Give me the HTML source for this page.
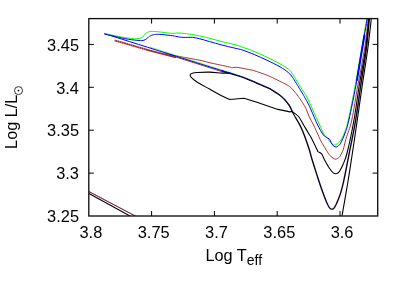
<!DOCTYPE html>
<html>
<head>
<meta charset="utf-8">
<style>
html,body{margin:0;padding:0;background:#fff;}
body{width:407px;height:284px;overflow:hidden;}
svg{display:block;will-change:transform;opacity:0.999;}
text{font-family:"Liberation Sans",sans-serif;fill:#000;}
</style>
</head>
<body>
<svg width="407" height="284" viewBox="0 0 407 284">
<rect x="0" y="0" width="407" height="284" fill="#fff"/>
<defs><clipPath id="c"><rect x="88.8" y="18.6" width="288.9" height="197.4"/></clipPath></defs>
<g clip-path="url(#c)" fill="none" stroke-width="1.0" stroke-linejoin="round" stroke-linecap="round">
<path d="M88.50,193.35 L131.00,216.55" stroke="#000" stroke-width="1.1"/>
<path d="M88.50,191.45 L136.00,216.50" stroke="#a52a2a"/>
<path d="M88.50,191.15 L136.00,216.20" stroke="#303080" stroke-width="0.6"/>
<path d="M170.00,55.17 L228.00,73.54" stroke="#a52a2a" stroke-width="0.9"/>
<path d="M114.60,40.35 L150.00,50.70 L176.00,57.30" stroke="#a52a2a" stroke-width="1.9" stroke-linecap="butt"/>
<path d="M114.60,40.35 L146.00,49.53" stroke="#fff" stroke-width="1.9" stroke-linecap="butt" stroke-dasharray="0.9 1.4" opacity="0.35"/>
<path d="M165.00,52.83 C166.17,53.20 169.50,54.37 172.00,55.00 C174.50,55.63 175.33,55.72 180.00,56.60 C184.67,57.48 195.00,59.27 200.00,60.30 C205.00,61.33 205.15,61.70 210.00,62.80 C214.85,63.90 225.52,66.08 229.10,66.90 C232.68,67.72 230.12,67.62 231.50,67.70 C232.88,67.78 234.57,67.10 237.40,67.40 C240.23,67.70 245.77,68.97 248.50,69.50 C251.23,70.03 250.63,69.62 253.80,70.60 C256.97,71.58 263.58,73.83 267.50,75.40 C271.42,76.97 274.02,78.40 277.30,80.00 C280.58,81.60 284.93,83.73 287.20,85.00 C289.47,86.27 289.60,86.40 290.90,87.60 C292.20,88.80 293.95,90.97 295.00,92.20 C296.05,93.43 295.97,93.30 297.20,95.00 C298.43,96.70 300.93,100.12 302.40,102.40 C303.87,104.68 304.92,106.43 306.00,108.70 C307.08,110.97 307.65,113.28 308.90,116.00 C310.15,118.72 311.95,121.83 313.50,125.00 C315.05,128.17 316.97,132.33 318.20,135.00 C319.43,137.67 319.22,137.95 320.90,141.00 C322.58,144.05 326.55,150.67 328.30,153.30 C330.05,155.93 330.38,155.87 331.40,156.80 C332.42,157.73 333.65,158.50 334.40,158.90 C335.15,159.30 335.38,159.27 335.90,159.20 C336.42,159.13 336.92,158.83 337.50,158.50 C338.08,158.17 338.87,157.78 339.40,157.20 C339.93,156.62 340.08,156.20 340.70,155.00 C341.32,153.80 342.20,152.75 343.10,150.00 C344.00,147.25 344.65,143.50 346.10,138.50 C347.55,133.50 349.83,128.92 351.80,120.00 C353.77,111.08 355.80,96.67 357.90,85.00 C360.00,73.33 362.67,61.17 364.40,50.00 C366.13,38.83 367.65,23.33 368.30,18.00" stroke="#a52a2a" stroke-width="0.95"/>
<path d="M150.00,47.18 L236.00,74.43" stroke="#00ff00" stroke-width="0.6"/>
<path d="M228.50,72.39 C230.45,73.01 237.35,75.16 240.20,76.10 C243.05,77.04 243.47,77.18 245.60,78.00 C247.73,78.82 250.53,79.95 253.00,81.00 C255.47,82.05 258.37,83.42 260.40,84.30 C262.43,85.18 263.90,85.75 265.20,86.30 C266.50,86.85 266.97,86.98 268.20,87.60 C269.43,88.22 270.63,88.78 272.60,90.00 C274.57,91.22 278.03,93.43 280.00,94.90 C281.97,96.37 283.17,97.57 284.40,98.80 C285.63,100.03 286.58,101.28 287.40,102.30 C288.22,103.32 288.70,103.93 289.30,104.90 C289.90,105.87 290.50,107.08 291.00,108.10 C291.50,109.12 292.08,110.52 292.30,111.00" stroke="#0000ff" stroke-width="0.9"/>
<path d="M295.15,117.60 C295.83,118.78 297.80,121.78 299.25,124.70 C300.70,127.62 302.22,130.87 303.85,135.10 C305.48,139.33 307.72,145.93 309.05,150.10 C310.38,154.27 310.22,154.77 311.85,160.10 C313.48,165.43 316.97,176.38 318.85,182.10 C320.73,187.82 321.82,190.80 323.15,194.40 C324.48,198.00 325.85,201.45 326.85,203.70 C327.85,205.95 328.57,207.02 329.15,207.90 C329.73,208.78 329.95,208.75 330.35,209.00 C330.75,209.25 331.29,209.29 331.55,209.40 C331.81,209.51 331.58,209.72 331.90,209.65 C332.22,209.58 332.99,209.29 333.45,209.00 C333.91,208.71 334.08,208.78 334.65,207.90 C335.22,207.02 335.87,205.95 336.85,203.70 C337.83,201.45 339.38,198.00 340.55,194.40 C341.72,190.80 342.40,188.65 343.85,182.10 C345.30,175.55 347.22,165.43 349.25,155.10 C351.28,144.77 354.07,131.77 356.05,120.10 C358.03,108.43 359.40,96.77 361.15,85.10 C362.90,73.43 365.12,61.27 366.55,50.10 C367.98,38.93 369.22,23.43 369.75,18.10" stroke="#a52a2a" stroke-width="0.5"/>
<path d="M295.85,117.40 C296.53,118.58 298.50,121.58 299.95,124.50 C301.40,127.42 302.92,130.67 304.55,134.90 C306.18,139.13 308.42,145.73 309.75,149.90 C311.08,154.07 310.92,154.57 312.55,159.90 C314.18,165.23 317.67,176.18 319.55,181.90 C321.43,187.62 322.52,190.60 323.85,194.20 C325.18,197.80 326.55,201.25 327.55,203.50 C328.55,205.75 329.27,206.82 329.85,207.70 C330.43,208.58 330.65,208.55 331.05,208.80 C331.45,209.05 332.11,209.18 332.25,209.20 C332.39,209.22 331.82,208.97 331.90,208.90 C331.98,208.83 332.41,209.00 332.75,208.80 C333.09,208.60 333.38,208.58 333.95,207.70 C334.52,206.82 335.17,205.75 336.15,203.50 C337.13,201.25 338.68,197.80 339.85,194.20 C341.02,190.60 341.70,188.45 343.15,181.90 C344.60,175.35 346.52,165.23 348.55,154.90 C350.58,144.57 353.37,131.57 355.35,119.90 C357.33,108.23 358.70,96.57 360.45,84.90 C362.20,73.23 364.42,61.07 365.85,49.90 C367.28,38.73 368.52,23.23 369.05,17.90" stroke="#0000ff" stroke-width="0.45"/>
<path d="M222.00,70.89 C223.05,71.22 225.30,71.94 228.30,72.89 C231.30,73.84 237.15,75.66 240.00,76.60 C242.85,77.54 243.27,77.68 245.40,78.50 C247.53,79.32 250.33,80.45 252.80,81.50 C255.27,82.55 258.17,83.92 260.20,84.80 C262.23,85.68 263.70,86.25 265.00,86.80 C266.30,87.35 266.77,87.48 268.00,88.10 C269.23,88.72 270.43,89.28 272.40,90.50 C274.37,91.72 277.83,93.93 279.80,95.40 C281.77,96.87 282.97,98.07 284.20,99.30 C285.43,100.53 286.38,101.78 287.20,102.80 C288.02,103.82 288.50,104.43 289.10,105.40 C289.70,106.37 290.30,107.58 290.80,108.60 C291.30,109.62 291.32,110.02 292.10,111.50 C292.88,112.98 294.25,115.32 295.50,117.50 C296.75,119.68 298.15,121.68 299.60,124.60 C301.05,127.52 302.57,130.77 304.20,135.00 C305.83,139.23 308.07,145.83 309.40,150.00 C310.73,154.17 310.57,154.67 312.20,160.00 C313.83,165.33 317.32,176.28 319.20,182.00 C321.08,187.72 322.17,190.70 323.50,194.30 C324.83,197.90 326.20,201.35 327.20,203.60 C328.20,205.85 328.92,206.92 329.50,207.80 C330.08,208.68 330.30,208.65 330.70,208.90 C331.10,209.15 331.50,209.30 331.90,209.30 C332.30,209.30 332.70,209.15 333.10,208.90 C333.50,208.65 333.73,208.68 334.30,207.80 C334.87,206.92 335.52,205.85 336.50,203.60 C337.48,201.35 339.03,197.90 340.20,194.30 C341.37,190.70 342.05,188.55 343.50,182.00 C344.95,175.45 346.87,165.33 348.90,155.00 C350.93,144.67 353.72,131.67 355.70,120.00 C357.68,108.33 359.05,96.67 360.80,85.00 C362.55,73.33 364.77,61.17 366.20,50.00 C367.63,38.83 368.87,23.33 369.40,18.00" stroke="#000" stroke-width="1.1"/>
<path d="M228.50,73.30 C227.40,73.27 225.05,73.30 221.90,73.10 C218.75,72.90 213.70,72.20 209.60,72.10 C205.50,72.00 200.17,72.30 197.30,72.50 C194.43,72.70 193.58,72.90 192.40,73.30 C191.22,73.70 190.40,74.22 190.20,74.90 C190.00,75.58 190.02,76.17 191.20,77.40 C192.38,78.63 194.23,80.35 197.30,82.30 C200.37,84.25 205.28,86.73 209.60,89.10 C213.92,91.47 219.87,94.77 223.20,96.50 C226.53,98.23 228.53,99.00 229.60,99.50L229.60,99.50 L244.00,98.20 L256.90,102.20 L270.00,106.80 L278.00,109.40 L285.40,110.90 L289.80,111.90 L292.10,111.50L292.10,111.50 C293.17,112.33 296.58,114.25 298.50,116.50 C300.42,118.75 301.75,121.92 303.60,125.00 C305.45,128.08 308.37,132.95 309.60,135.00 C310.83,137.05 309.73,134.80 311.00,137.30 C312.27,139.80 316.05,147.62 317.20,150.00 C318.35,152.38 317.17,150.95 317.90,151.60 C318.63,152.25 320.48,152.52 321.60,153.90 C322.72,155.28 323.27,157.47 324.60,159.90 C325.93,162.33 328.15,166.35 329.60,168.50 C331.05,170.65 332.28,171.93 333.30,172.80 C334.32,173.67 334.92,173.68 335.70,173.70 C336.48,173.72 337.35,173.32 338.00,172.90 C338.65,172.48 338.78,172.55 339.60,171.20 C340.42,169.85 341.63,167.92 342.90,164.80 C344.17,161.68 345.35,159.97 347.20,152.50 C349.05,145.03 351.98,131.25 354.00,120.00 C356.02,108.75 357.40,96.67 359.30,85.00 C361.20,73.33 363.80,61.17 365.40,50.00 C367.00,38.83 368.32,23.33 368.90,18.00" stroke="#000" stroke-width="1.1"/>
<path d="M341.90,216.50 C342.90,210.75 346.20,192.25 347.90,182.00 C349.60,171.75 350.53,165.33 352.10,155.00 C353.67,144.67 355.60,131.67 357.30,120.00 C359.00,108.33 360.58,96.67 362.30,85.00 C364.02,73.33 366.08,61.17 367.60,50.00 C369.12,38.83 370.77,23.33 371.40,18.00" stroke="#000" stroke-width="1.1"/>
<path d="M104.60,33.70 C125.33,40.24 208.27,66.42 229.00,72.96" stroke="#0000ff" stroke-width="1.0"/>
<path d="M104.70,33.50 C107.00,34.00 114.15,35.68 118.50,36.50 C122.85,37.32 127.73,38.03 130.80,38.40 C133.87,38.77 135.15,38.80 136.90,38.70 C138.65,38.60 140.17,38.28 141.30,37.80 C142.43,37.32 142.88,36.60 143.70,35.80 C144.52,35.00 145.40,33.63 146.20,33.00 C147.00,32.37 147.68,32.27 148.50,32.00 C149.32,31.73 149.43,31.43 151.10,31.40 C152.77,31.37 155.22,31.48 158.50,31.80 C161.78,32.12 167.72,33.10 170.80,33.30 C173.88,33.50 174.95,33.00 177.00,33.00 C179.05,33.00 180.93,33.10 183.10,33.30 C185.27,33.50 187.63,33.83 190.00,34.20 C192.37,34.57 194.03,34.82 197.30,35.50 C200.57,36.18 205.50,37.28 209.60,38.30 C213.70,39.32 217.67,40.53 221.90,41.60 C226.13,42.67 231.60,43.78 235.00,44.70 C238.40,45.62 239.03,45.95 242.30,47.10 C245.57,48.25 250.50,49.92 254.60,51.60 C258.70,53.28 262.67,55.15 266.90,57.20 C271.13,59.25 276.40,61.90 280.00,63.90 C283.60,65.90 286.47,67.60 288.50,69.20 C290.53,70.80 290.77,71.45 292.20,73.50 C293.63,75.55 295.68,79.20 297.10,81.50 C298.52,83.80 299.00,84.58 300.70,87.30 C302.40,90.02 305.28,94.02 307.30,97.80 C309.32,101.58 310.73,105.47 312.80,110.00 C314.87,114.53 317.85,120.97 319.70,125.00 C321.55,129.03 322.47,131.87 323.90,134.20 C325.33,136.53 327.40,137.87 328.30,139.00 C329.20,140.13 328.70,140.25 329.30,141.00 C329.90,141.75 331.05,142.82 331.90,143.50 C332.75,144.18 333.52,145.05 334.40,145.10 C335.28,145.15 336.20,144.52 337.20,143.80 C338.20,143.08 339.12,142.83 340.40,140.80 C341.68,138.77 343.58,135.07 344.90,131.60 C346.22,128.13 346.57,127.77 348.30,120.00 C350.03,112.23 353.13,96.67 355.30,85.00 C357.47,73.33 359.37,61.17 361.30,50.00 C363.23,38.83 365.97,23.33 366.90,18.00" stroke="#00ff00"/>
<path d="M104.70,34.00 C108.02,34.77 119.23,37.55 124.60,38.60 C129.97,39.65 133.82,39.98 136.90,40.30 C139.98,40.62 141.45,40.78 143.10,40.50 C144.75,40.22 145.88,39.20 146.80,38.60 C147.72,38.00 147.98,37.37 148.60,36.90 C149.22,36.43 149.68,36.17 150.50,35.80 C151.32,35.43 152.17,34.95 153.50,34.70 C154.83,34.45 155.62,34.17 158.50,34.30 C161.38,34.43 167.72,35.12 170.80,35.50 C173.88,35.88 174.95,36.28 177.00,36.60 C179.05,36.92 180.53,37.27 183.10,37.40 C185.67,37.53 189.62,37.17 192.40,37.40 C195.18,37.63 196.93,38.10 199.80,38.80 C202.67,39.50 205.92,40.57 209.60,41.60 C213.28,42.63 217.67,43.90 221.90,45.00 C226.13,46.10 231.60,47.37 235.00,48.20 C238.40,49.03 239.03,48.92 242.30,50.00 C245.57,51.08 250.50,53.00 254.60,54.70 C258.70,56.40 262.67,58.18 266.90,60.20 C271.13,62.22 276.40,64.72 280.00,66.80 C283.60,68.88 286.43,70.97 288.50,72.70 C290.57,74.43 291.10,75.43 292.40,77.20 C293.70,78.97 294.67,80.67 296.30,83.30 C297.93,85.93 300.87,90.78 302.20,93.00 C303.53,95.22 303.18,94.60 304.30,96.60 C305.42,98.60 307.77,102.77 308.90,105.00 C310.03,107.23 309.63,106.67 311.10,110.00 C312.57,113.33 315.67,120.85 317.70,125.00 C319.73,129.15 321.65,132.75 323.30,134.90 C324.95,137.05 326.47,137.08 327.60,137.90 C328.73,138.72 329.55,139.08 330.10,139.80 C330.65,140.52 330.38,141.22 330.90,142.20 C331.42,143.18 332.30,144.90 333.20,145.70 C334.10,146.50 335.42,147.02 336.30,147.00 C337.18,146.98 337.78,146.22 338.50,145.60 C339.22,144.98 339.50,145.40 340.60,143.30 C341.70,141.20 343.72,136.88 345.10,133.00 C346.48,129.12 347.08,128.00 348.90,120.00 C350.72,112.00 353.85,96.67 356.00,85.00 C358.15,73.33 359.90,61.17 361.80,50.00 C363.70,38.83 366.47,23.33 367.40,18.00" stroke="#0000ff"/>
<path d="M357.00,80.00 C357.83,75.00 360.77,57.42 362.00,50.00 C363.23,42.58 364.00,37.92 364.40,35.50" stroke="#0000ff" stroke-width="1.9"/>
</g>
<rect x="88.8" y="18.6" width="288.9" height="197.4" fill="none" stroke="#111" stroke-width="1.35"/>
<g stroke="#000" stroke-width="1">
<path d="M151.6,216v-5M214.4,216v-5M277.2,216v-5M340,216v-5M151.6,18.6v5M214.4,18.6v5M277.2,18.6v5M340,18.6v5"/>
<path d="M88.8,44.4h5.1M88.8,87.3h5.1M88.8,130.2h5.1M88.8,173.1h5.1M377.7,44.4h-5.1M377.7,87.3h-5.1M377.7,130.2h-5.1M377.7,173.1h-5.1"/>
</g>
<g font-size="16.4" text-anchor="end">
<text x="79" y="50.6">3.45</text>
<text x="79" y="93.5">3.4</text>
<text x="79" y="136.4">3.35</text>
<text x="79" y="179.3">3.3</text>
<text x="79" y="222.2">3.25</text>
</g>
<g font-size="16.4" text-anchor="middle">
<text x="90.9" y="238.2">3.8</text>
<text x="153.7" y="238.2">3.75</text>
<text x="216.5" y="238.2">3.7</text>
<text x="279.3" y="238.2">3.65</text>
<text x="342.1" y="238.2">3.6</text>
</g>
<text x="205.4" y="260.7" font-size="16.3">Log T<tspan font-size="14" dy="4.3">eff</tspan></text>
<g transform="translate(16.7,148.9) rotate(-90)">
<text x="0" y="0" font-size="16.3">Log L/L</text>
<circle cx="58.3" cy="1.8" r="4" fill="none" stroke="#000" stroke-width="0.8"/>
<circle cx="58.3" cy="1.8" r="0.9" fill="#000"/>
</g>
</svg>
</body>
</html>
